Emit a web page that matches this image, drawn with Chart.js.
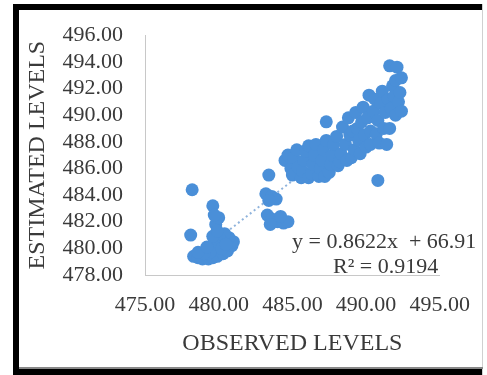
<!DOCTYPE html>
<html>
<head>
<meta charset="utf-8">
<script src="https://cdn.jsdelivr.net/npm/chart.js@4.4.0/dist/chart.umd.min.js"></script>
<style>
  html, body { margin: 0; padding: 0; background: #fff; }
  #wrap { width: 487px; height: 375px; }
</style>
</head>
<body>
<div id="wrap"><canvas id="levels-chart" width="487" height="375"></canvas></div>
<script>
// observed vs estimated levels
const observed = [
  478.2, 479.6, 478.1, 479.8, 480.0, 479.7, 478.3, 478.6, 478.9, 479.3,
  479.6, 479.9, 480.3, 480.6, 480.9, 481.0, 480.7, 480.4, 480.1, 479.8,
  479.4, 479.0, 478.6, 479.6, 479.9, 480.2, 480.5, 479.2,
  483.4, 483.2, 483.6, 483.9, 483.4, 483.3, 483.6, 484.0, 484.4, 484.7,
  483.5, 484.2,
  484.5, 484.7, 484.9, 485.0, 485.1, 485.3, 485.4, 485.6, 485.7, 485.8,
  485.9, 486.1, 486.1, 486.3, 486.4, 486.5, 486.6, 486.8, 486.9, 487.0,
  487.1, 487.2, 487.3, 487.3, 487.5, 487.6, 487.7, 487.8, 488.0, 488.1,
  488.2, 488.3, 488.4, 488.6, 488.7, 488.8, 488.9, 489.0, 489.1, 489.2,
  489.3, 489.4, 489.5, 489.6, 489.7, 489.8, 489.9, 490.0, 490.1, 490.2,
  490.3, 490.3, 490.5, 490.6, 490.7, 490.8, 490.8, 490.9, 491.0, 491.1,
  491.2, 491.3, 491.4, 491.5, 491.6, 491.6, 491.7, 491.8, 491.9, 492.0,
  492.0, 492.1, 492.2, 492.4, 492.4, 492.3
];
const estimated = [
  484.4, 483.2, 481.0, 481.8, 482.3, 482.5, 479.4, 479.3, 479.2, 479.2,
  479.3, 479.4, 479.6, 479.8, 480.2, 480.5, 480.8, 481.1, 480.7, 480.2,
  479.7, 479.6, 479.7, 480.9, 481.3, 480.0, 480.3, 480.1,
  485.5, 484.1, 483.9, 483.7, 483.6, 482.5, 482.2, 482.0, 481.9, 482.0,
  481.8, 482.4,
  486.6, 487.0, 486.0, 485.5, 486.8, 487.4, 486.1, 485.3, 485.8, 486.6,
  487.3, 487.7, 485.3, 485.6, 486.3, 487.0, 487.8, 485.4, 486.0, 486.6,
  487.4, 485.4, 488.1, 489.5, 485.7, 486.3, 487.0, 487.8, 488.4, 486.2,
  486.5, 487.1, 489.1, 487.8, 486.6, 489.8, 488.5, 486.8, 488.8, 487.4,
  490.2, 489.0, 488.1, 487.1, 489.5, 490.6, 488.5, 487.6, 489.8, 491.5,
  488.8, 487.8, 490.3, 491.2, 488.6, 485.1, 489.6, 487.9, 490.9, 491.8,
  489.0, 490.2, 487.8, 491.2, 489.0, 493.7, 490.5, 492.2, 491.4, 490.0,
  492.6, 493.6, 491.0, 492.8, 490.3, 491.7
];

// axis ticks
const xTicks = [475, 480, 485, 490, 495];
const yTicks = [478, 480, 482, 484, 486, 488, 490, 492, 494, 496];

// linear trendline from the chart
const slope = 0.8622;
const intercept = 66.91;
const rSquared = 0.9194;

const serif = "'Liberation Serif', 'Times New Roman', serif";
const textColor = '#3a3a3a';
const axisColor = '#c8c8c8';

const points = observed.map((x, i) => ({ x: x, y: estimated[i] }));
const xMin = Math.min(...observed);
const xMax = Math.max(...observed);
const trend = [
  { x: xMin, y: slope * xMin + intercept },
  { x: xMax, y: slope * xMax + intercept }
];

// frame + equation text
const framePlugin = {
  id: 'frame',
  beforeDraw(chart) {
    const c = chart.ctx;
    c.save();
    c.fillStyle = '#fff';
    c.fillRect(0, 0, chart.width, chart.height);
    c.restore();
  },
  afterDraw(chart) {
    const c = chart.ctx;
    const a = chart.chartArea;
    c.save();
    c.fillStyle = '#000';
    c.fillRect(13, 4, 470, 6);     // top
    c.fillRect(13, 4, 6, 371);     // left
    c.fillRect(13, 369, 470, 6);   // bottom
    c.fillStyle = '#d0d0d0';
    c.fillRect(482, 4, 1, 371);    // right
    c.fillStyle = '#888';
    c.fillRect(19, 367, 464, 2);

    c.fillStyle = textColor;
    c.font = '22px ' + serif;
    c.textAlign = 'left';
    c.textBaseline = 'middle';
    c.fillText('y = ' + slope.toFixed(4) + 'x  + ' + intercept.toFixed(2), a.left + 147, a.bottom - 33);
    c.fillText('R\u00B2 = ' + rSquared.toFixed(4), a.left + 188, a.bottom - 8);
    c.restore();
  }
};

const ctx = document.getElementById('levels-chart').getContext('2d');
new Chart(ctx, {
  type: 'scatter',
  data: {
    datasets: [
      {
        label: 'Estimated',
        data: points,
        backgroundColor: '#4a8fd8',
        borderWidth: 0,
        pointRadius: 6.5,
        order: 0
      },
      {
        type: 'line',
        label: 'Linear',
        data: trend,
        borderColor: '#8fb3dc',
        borderWidth: 2,
        borderDash: [2, 3],
        pointRadius: 0,
        fill: false,
        order: 1
      }
    ]
  },
  options: {
    responsive: false,
    animation: false,
    layout: { padding: { left: 20, right: 40, top: 33, bottom: 15 } },
    plugins: { legend: { display: false }, tooltip: { enabled: false } },
    scales: {
      x: {
        type: 'linear',
        min: xTicks[0],
        max: xTicks[xTicks.length - 1],
        afterBuildTicks: s => { s.ticks = xTicks.map(v => ({ value: v })); },
        afterFit: s => { s.height = 85; },
        grid: { display: false, drawTicks: false },
        border: { display: true, color: axisColor, width: 1 },
        ticks: {
          autoSkip: false,
          maxRotation: 0,
          padding: 17,
          color: textColor,
          font: { family: serif, size: 22 },
          callback: v => Number(v).toFixed(2)
        },
        title: {
          display: true,
          text: 'OBSERVED LEVELS',
          color: textColor,
          font: { family: serif, size: 24 },
          padding: { top: 0, bottom: 2 }
        }
      },
      y: {
        type: 'linear',
        min: yTicks[0],
        max: yTicks[yTicks.length - 1],
        afterBuildTicks: s => { s.ticks = yTicks.map(v => ({ value: v })); },
        afterFit: s => { s.width = 125; },
        grid: { display: false, drawTicks: false },
        border: { display: true, color: axisColor, width: 1 },
        ticks: {
          autoSkip: false,
          padding: 22,
          color: textColor,
          font: { family: serif, size: 22 },
          callback: v => Number(v).toFixed(2)
        },
        title: {
          display: true,
          text: 'ESTIMATED LEVELS',
          color: textColor,
          font: { family: serif, size: 24 },
          padding: { top: 3, bottom: 0 }
        }
      }
    }
  },
  plugins: [framePlugin]
});
</script>
</body>
</html>
